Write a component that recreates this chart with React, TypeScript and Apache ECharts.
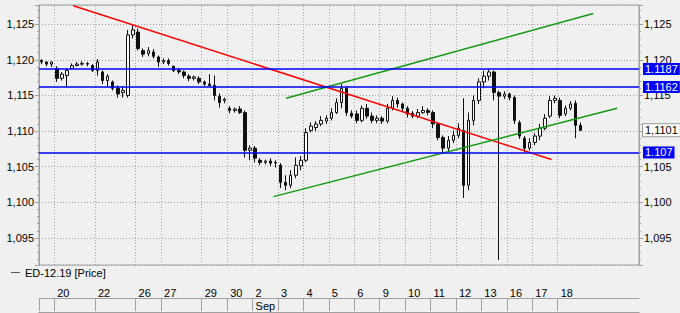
import React, { useEffect, useRef } from 'react';
import * as echarts from 'echarts';

// ---- OHLC data (one candle per slot) ----
const opens = [
  1.1199, 1.1197, 1.1194, 1.1188, 1.1174, 1.1178, 1.1188, 1.1192, 1.1194, 1.1195,
  1.1192, 1.1185, 1.1183, 1.1171, 1.1169, 1.1160, 1.1154, 1.1150, 1.1235, 1.1239,
  1.1213, 1.1209, 1.1211, 1.1204, 1.1197, 1.1199, 1.1191, 1.1185, 1.1183, 1.1177,
  1.1174, 1.1174, 1.1169, 1.1166, 1.1164, 1.1149, 1.1143, 1.1132, 1.1129, 1.1131,
  1.1126, 1.1073, 1.1076, 1.1059, 1.1056, 1.1058, 1.1055, 1.1052, 1.1028, 1.1024,
  1.1038, 1.1051, 1.1059, 1.1101, 1.1105, 1.1110, 1.1114, 1.1118, 1.1126, 1.1140,
  1.1160, 1.1125, 1.1124, 1.1115, 1.1132, 1.1121, 1.1115, 1.1118, 1.1114, 1.1132,
  1.1143, 1.1138, 1.1132, 1.1125, 1.1121, 1.1126, 1.1129, 1.1126, 1.1110, 1.1091,
  1.1076, 1.1087, 1.1094, 1.1101, 1.1024, 1.1115, 1.1143, 1.1169, 1.1177, 1.1183,
  1.1154, 1.1149, 1.1152, 1.1147, 1.1112, 1.1090, 1.1076, 1.1084, 1.1093, 1.1104,
  1.1121, 1.1143, 1.1143, 1.1124, 1.1132, 1.1139, 1.1108,
];
const closes = [
  1.1197, 1.1194, 1.1197, 1.1174, 1.1180, 1.1185, 1.1192, 1.1194, 1.1195, 1.1194,
  1.1185, 1.1197, 1.1171, 1.1177, 1.1160, 1.1152, 1.1157, 1.1235, 1.1242, 1.1216,
  1.1208, 1.1213, 1.1205, 1.1197, 1.1199, 1.1195, 1.1185, 1.1183, 1.1178, 1.1174,
  1.1176, 1.1169, 1.1166, 1.1164, 1.1150, 1.1140, 1.1145, 1.1129, 1.1131, 1.1126,
  1.1073, 1.1076, 1.1062, 1.1056, 1.1058, 1.1055, 1.1056, 1.1028, 1.1024, 1.1038,
  1.1052, 1.1059, 1.1098, 1.1107, 1.1110, 1.1115, 1.1118, 1.1126, 1.1140, 1.1160,
  1.1126, 1.1121, 1.1115, 1.1132, 1.1121, 1.1115, 1.1118, 1.1114, 1.1132, 1.1143,
  1.1138, 1.1132, 1.1124, 1.1121, 1.1126, 1.1129, 1.1126, 1.1110, 1.1091, 1.1076,
  1.1087, 1.1094, 1.1104, 1.1024, 1.1115, 1.1143, 1.1169, 1.1177, 1.1183, 1.1154,
  1.1149, 1.1152, 1.1147, 1.1115, 1.1093, 1.1076, 1.1084, 1.1093, 1.1104, 1.1118,
  1.1143, 1.1146, 1.1122, 1.1132, 1.1138, 1.1108, 1.1101,
];
const lows = [
  1.1194, 1.1191, 1.1190, 1.1169, 1.1171, 1.1162, 1.1187, 1.1191, 1.1192, 1.1191,
  1.1183, 1.1178, 1.1166, 1.1162, 1.1157, 1.1147, 1.1147, 1.1147, 1.1230, 1.1213,
  1.1204, 1.1205, 1.1202, 1.1190, 1.1194, 1.1192, 1.1183, 1.1180, 1.1174, 1.1170,
  1.1171, 1.1166, 1.1163, 1.1162, 1.1143, 1.1133, 1.1139, 1.1125, 1.1126, 1.1124,
  1.1063, 1.1059, 1.1056, 1.1052, 1.1053, 1.1051, 1.1049, 1.1020, 1.1017, 1.1020,
  1.1034, 1.1045, 1.1056, 1.1098, 1.1100, 1.1107, 1.1110, 1.1115, 1.1124, 1.1132,
  1.1121, 1.1118, 1.1111, 1.1112, 1.1117, 1.1111, 1.1111, 1.1110, 1.1111, 1.1129,
  1.1133, 1.1128, 1.1119, 1.1118, 1.1118, 1.1124, 1.1122, 1.1104, 1.1087, 1.1070,
  1.1072, 1.1083, 1.1090, 1.1006, 1.1017, 1.1108, 1.1138, 1.1160, 1.1171, 1.1143,
  1.0919, 1.1145, 1.1143, 1.1110, 1.1089, 1.1070, 1.1073, 1.1080, 1.1087, 1.1101,
  1.1118, 1.1139, 1.1118, 1.1121, 1.1129, 1.1090, 1.1100,
];
const highs = [
  1.1201, 1.1198, 1.1198, 1.1191, 1.1183, 1.1188, 1.1195, 1.1197, 1.1198, 1.1197,
  1.1194, 1.1201, 1.1185, 1.1180, 1.1171, 1.1164, 1.1163, 1.1242, 1.1250, 1.1244,
  1.1216, 1.1218, 1.1215, 1.1206, 1.1202, 1.1202, 1.1192, 1.1188, 1.1185, 1.1180,
  1.1178, 1.1177, 1.1171, 1.1180, 1.1178, 1.1153, 1.1147, 1.1135, 1.1133, 1.1135,
  1.1129, 1.1080, 1.1079, 1.1062, 1.1060, 1.1062, 1.1059, 1.1055, 1.1038, 1.1045,
  1.1063, 1.1065, 1.1104, 1.1112, 1.1114, 1.1121, 1.1122, 1.1132, 1.1146, 1.1166,
  1.1163, 1.1129, 1.1129, 1.1136, 1.1138, 1.1126, 1.1122, 1.1121, 1.1138, 1.1149,
  1.1147, 1.1140, 1.1135, 1.1128, 1.1131, 1.1135, 1.1132, 1.1129, 1.1112, 1.1094,
  1.1093, 1.1101, 1.1111, 1.1146, 1.1126, 1.1150, 1.1174, 1.1185, 1.1187, 1.1185,
  1.1157, 1.1156, 1.1154, 1.1150, 1.1115, 1.1093, 1.1090, 1.1097, 1.1110, 1.1124,
  1.1149, 1.1150, 1.1147, 1.1136, 1.1142, 1.1143, 1.1112,
];

// ---- time axis (slot units) ----
const TOTAL_SLOTS = 118;
const dayStarts = [3, 11, 19, 24, 32, 37, 42, 47, 52, 57, 62, 67, 72, 77, 82, 87, 92, 97, 102];
const dayLabels = ['20', '22', '26', '27', '29', '30', '2', '3', '4', '5', '6', '9', '10', '11', '12', '13', '16', '17', '18'];
const monthStarts = [42];
const monthLabels = ['Sep'];

// ---- drawn levels and trend lines ----
const levels = [1.1187, 1.1162, 1.107];
const levelLabels = ['1.1187', '1.1162', '1.107'];
const redTrend = [[6.75, 1.1276], [100.8, 1.106]];
const greenUpper = [[48.6, 1.1146], [109.0, 1.1265]];
const greenLower = [[46.1, 1.1008], [113.7, 1.1132]];

const Y_MIN = 1.0912;
const Y_MAX = 1.1277;
const SERIES_NAME = 'ED-12.19 [Price]';

const FONT = "'Liberation Sans', Arial, sans-serif";
const GRID_COLOR = '#a0a0a0';

export default function App() {
  const ref = useRef<HTMLDivElement>(null);

  useEffect(() => {
    if (!ref.current) return;
    const chart = echarts.init(ref.current, null, { renderer: 'svg' });

    const categories = Array.from({ length: TOTAL_SLOTS }, (_, i) => String(i));
    const candles = opens.map((o, i) => [o, closes[i], lows[i], highs[i]]);
    const lastPrice = closes[closes.length - 1];

    const fmt = (v: number) => v.toFixed(3).replace('.', ',');

    const yCommon = {
      type: 'value',
      gridIndex: 0,
      min: Y_MIN,
      max: Y_MAX,
      splitNumber: 7,
      axisLine: { show: true, lineStyle: { color: GRID_COLOR } },
      axisTick: { show: true, length: 4, lineStyle: { color: GRID_COLOR } },
      minorTick: { show: true, splitNumber: 5, length: 2, lineStyle: { color: GRID_COLOR } },
      axisLabel: {
        formatter: fmt,
        color: '#000',
        fontSize: 11,
        fontFamily: FONT,
        margin: 5,
        showMinLabel: false,
        showMaxLabel: false,
      },
    };

    const lineLevel = (v: number, label: string) => ({
      yAxis: v,
      lineStyle: { color: '#0000ff', width: 1.5, type: 'solid' },
      label: {
        show: true,
        position: 'end',
        distance: 4,
        formatter: label,
        color: '#fff',
        backgroundColor: '#0000ff',
        padding: [1, 2, 0, 2],
        fontSize: 11,
        lineHeight: 11,
        fontFamily: FONT,
      },
    });

    const option: any = {
      animation: false,
      backgroundColor: '#f0f0f0',
      textStyle: { fontFamily: FONT, fontSize: 11 },
      legend: {
        left: 11,
        top: 267,
        padding: 0,
        itemWidth: 9,
        itemHeight: 1,
        selectedMode: false,
        textStyle: { fontSize: 11, color: '#000', fontFamily: FONT },
        data: [{ name: SERIES_NAME, icon: 'rect', itemStyle: { color: '#555', borderWidth: 0 } }],
      },
      grid: [
        { left: 39, right: 41, top: 5, bottom: 48, show: true, borderColor: GRID_COLOR, borderWidth: 1, backgroundColor: 'transparent' },
        { left: 39, right: 41, top: 285, height: 13 },
        { left: 39, right: 41, top: 298, height: 14 },
      ],
      xAxis: [
        {
          type: 'category',
          gridIndex: 0,
          data: categories,
          boundaryGap: true,
          show: false,
        },
        {
          type: 'value',
          gridIndex: 0,
          min: 0,
          max: TOTAL_SLOTS,
          position: 'bottom',
          axisLine: { show: false },
          axisLabel: { show: false },
          splitLine: { show: false },
          axisTick: {
            show: true,
            inside: true,
            length: 260,
            customValues: dayStarts,
            lineStyle: { color: GRID_COLOR, type: [1, 2] },
          },
        },
        {
          type: 'value',
          gridIndex: 1,
          min: 0,
          max: TOTAL_SLOTS,
          position: 'top',
          axisLine: { show: true, lineStyle: { color: GRID_COLOR } },
          splitLine: { show: false },
          axisTick: {
            show: true,
            inside: true,
            length: 13,
            customValues: [0, ...dayStarts],
            lineStyle: { color: GRID_COLOR },
          },
          axisLabel: {
            show: true,
            inside: true,
            margin: 2,
            align: 'left',
            padding: [0, 0, 0, 3],
            color: '#000',
            fontSize: 11,
            fontFamily: FONT,
            customValues: dayStarts,
            formatter: (v: number) => {
              const i = dayStarts.indexOf(Math.round(v));
              return i >= 0 ? dayLabels[i] : '';
            },
          },
        },
        {
          type: 'value',
          gridIndex: 2,
          min: 0,
          max: TOTAL_SLOTS,
          position: 'top',
          axisLine: { show: true, lineStyle: { color: GRID_COLOR } },
          splitLine: { show: false },
          axisTick: {
            show: true,
            inside: true,
            length: 14,
            customValues: [0, ...monthStarts],
            lineStyle: { color: GRID_COLOR },
          },
          axisLabel: {
            show: true,
            inside: true,
            margin: 2,
            align: 'left',
            padding: [0, 0, 0, 3],
            color: '#000',
            fontSize: 11,
            fontFamily: FONT,
            customValues: monthStarts,
            formatter: (v: number) => {
              const i = monthStarts.indexOf(Math.round(v));
              return i >= 0 ? monthLabels[i] : '';
            },
          },
        },
        {
          type: 'value',
          gridIndex: 2,
          min: 0,
          max: TOTAL_SLOTS,
          position: 'bottom',
          axisLine: { show: true, lineStyle: { color: GRID_COLOR } },
          axisTick: { show: false },
          axisLabel: { show: false },
          splitLine: { show: false },
        },
      ],
      yAxis: [
        {
          ...yCommon,
          position: 'left',
          splitLine: { show: true, lineStyle: { color: GRID_COLOR, type: [1, 2] } },
        },
        {
          ...yCommon,
          position: 'right',
          splitLine: { show: false },
        },
        { type: 'value', gridIndex: 1, min: 0, max: 1, show: false },
        { type: 'value', gridIndex: 2, min: 0, max: 1, show: false },
      ],
      series: [
        {
          name: SERIES_NAME,
          type: 'candlestick',
          xAxisIndex: 0,
          yAxisIndex: 0,
          data: candles,
          barWidth: 3,
          itemStyle: {
            color: '#ffffff',
            color0: '#111111',
            borderColor: '#111111',
            borderColor0: '#111111',
            borderWidth: 1,
          },
          markLine: {
            silent: true,
            precision: 4,
            symbol: ['none', 'none'],
            data: [
              ...levels.map((v, i) => lineLevel(v, levelLabels[i])),
              {
                yAxis: lastPrice,
                lineStyle: { color: 'rgba(0,0,0,0)', width: 1, opacity: 1 },
                label: {
                  show: true,
                  position: 'end',
                  distance: 4,
                  formatter: lastPrice.toFixed(4).replace('.', ','),
                  color: '#000',
                  opacity: 1,
                  backgroundColor: '#ffffff',
                  borderColor: '#999999',
                  borderWidth: 1,
                  padding: [1, 2, 0, 2],
                  fontSize: 11,
                  lineHeight: 11,
                  fontFamily: FONT,
                },
              },
            ],
          },
        },
        {
          name: 'redTrend',
          type: 'line',
          xAxisIndex: 1,
          yAxisIndex: 0,
          data: redTrend,
          showSymbol: false,
          symbol: 'none',
          silent: true,
          lineStyle: { color: '#ff0000', width: 1.5 },
        },
        {
          name: 'greenUpper',
          type: 'line',
          xAxisIndex: 1,
          yAxisIndex: 0,
          data: greenUpper,
          showSymbol: false,
          symbol: 'none',
          silent: true,
          lineStyle: { color: '#119911', width: 1.5 },
        },
        {
          name: 'greenLower',
          type: 'line',
          xAxisIndex: 1,
          yAxisIndex: 0,
          data: greenLower,
          showSymbol: false,
          symbol: 'none',
          silent: true,
          lineStyle: { color: '#119911', width: 1.5 },
        },
      ],
    };

    chart.setOption(option);
    return () => chart.dispose();
  }, []);

  return (
    <div
      ref={ref}
      style={{ position: 'fixed', left: 0, top: 0, width: 680, height: 313, background: '#f0f0f0' }}
    />
  );
}
